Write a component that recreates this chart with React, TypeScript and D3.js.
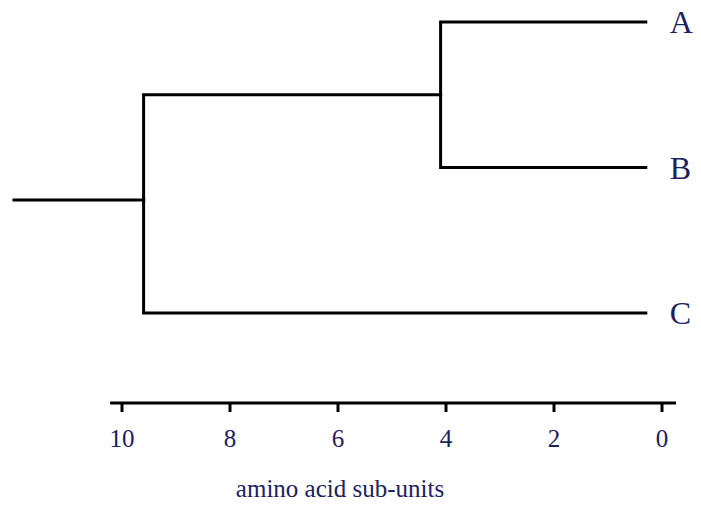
import React from 'react';
import * as d3 from 'd3';

// leaves top to bottom, and the height (in sub-units) where branches join
const leaves = ['A', 'B', 'C'];
const joinAB = 4.1;
const joinABC = 9.6;
const leafEnd = 0.3;
const rootStart = 12;
const tickValues = [10, 8, 6, 4, 2, 0];
const axisTitle = 'amino acid sub-units';

const W = 701, H = 510;
const ink = '#1c2160';

const App = () => {
  const x = d3.scaleLinear().domain([10, 0]).range([122, 662]);
  const y = d3.scalePoint().domain(leaves).range([22, 313]);

  const yA = y('A')!, yB = y('B')!, yC = y('C')!;
  const yAB = (yA + yB) / 2;
  const yRoot = (yAB + yC) / 2 - 4;

  const elbow = (px: number, py: number, cx: number, cy: number) =>
    `M${px},${py}V${cy}H${cx}`;

  const paths = [
    `M${x(rootStart)},${yRoot}H${x(joinABC)}`,
    elbow(x(joinABC), yRoot, x(joinAB), yAB),
    elbow(x(joinABC), yRoot, x(leafEnd), yC),
    elbow(x(joinAB), yAB, x(leafEnd), yA),
    elbow(x(joinAB), yAB, x(leafEnd), yB),
  ];

  const axisY = 403;
  const serif = 'Liberation Serif';

  return (
    <svg width={W} height={H} style={{ position: 'absolute', left: 0, top: 0, background: '#fff' }}>
      <g fill="none" stroke="#000" strokeWidth={3} strokeLinecap="square" strokeLinejoin="miter">
        {paths.map((d, i) => <path key={i} d={d} />)}
      </g>
      {leaves.map(l => (
        <text key={l} x={x(leafEnd) + 24} y={y(l)!} dy="0.35em" fontFamily={serif} fontSize={32} fill={ink}>{l}</text>
      ))}
      <g>
        <line x1={x(10.22)} x2={x(-0.26)} y1={axisY} y2={axisY} stroke="#000" strokeWidth={3} />
        {tickValues.map(t => (
          <g key={t} transform={`translate(${x(t)},${axisY})`}>
            <line y1={0} y2={9} stroke="#000" strokeWidth={3} />
            <text y={44} textAnchor="middle" fontFamily={serif} fontSize={25} fill={ink}>{t}</text>
          </g>
        ))}
        <text x={340} y={497} textAnchor="middle" fontFamily={serif} fontSize={25} fill={ink}>{axisTitle}</text>
      </g>
    </svg>
  );
};

export default App;
